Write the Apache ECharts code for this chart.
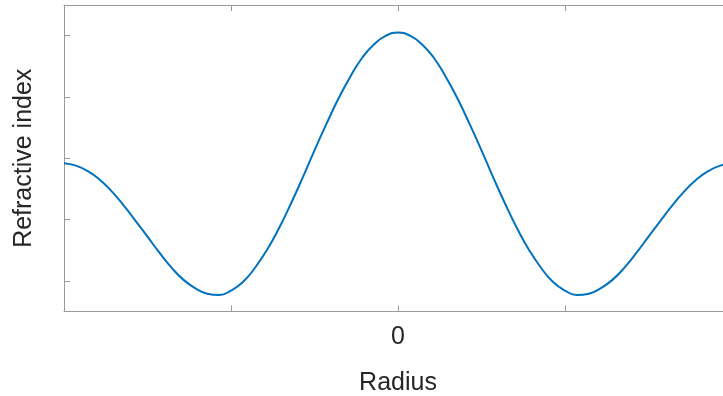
<!DOCTYPE html>
<html style="height: 100%">
<head>
<meta charset="utf-8">
<script src="https://cdn.jsdelivr.net/npm/echarts@6/dist/echarts.min.js"></script>
</head>
<body style="height: 100%; margin: 0; background: #fff">
<div id="container" style="width: 723px; height: 396px"></div>
<script type="text/javascript">
// radius samples (half profile, mirrored below) and the index
var radius = [0, 0.25, 0.5, 0.75, 1, 1.25, 1.5, 1.75, 2, 2.25, 2.5, 2.75, 3, 3.25, 3.5,
	3.75, 4, 4.25, 4.5, 4.75, 5, 5.25, 5.5, 5.75, 6, 6.25, 6.5, 6.75, 7];
var index = [4.55, 4.50, 4.36, 4.14, 3.83, 3.47, 3.06, 2.63, 2.18, 1.75, 1.35, 1.00, 0.71, 0.48, 0.34,
	0.27, 0.29, 0.38, 0.52, 0.72, 0.96, 1.22, 1.48, 1.73, 1.96, 2.15, 2.29, 2.38, 2.42];
var yTicks = [0.5, 1.5, 2.5, 3.5, 4.5];

var data = [];
for (var i = radius.length - 1; i > 0; i--) data.push([-radius[i], index[i]]);
for (var i = 0; i < radius.length; i++) data.push([radius[i], index[i]]);

var boxColor = '#9a9a9a';
var textColor = '#262626';
var font = '"Liberation Sans", Arial, sans-serif';

var myChart = echarts.init(document.getElementById('container'));
var option = {
	animation: false,
	grid: { left: 64, top: 5, width: 668, height: 306.5, outerBoundsMode: 'none' },
	xAxis: [{
		type: 'value',
		min: -7, max: 7, interval: 3.5,
		name: 'Radius',
		nameLocation: 'middle',
		nameGap: 59,
		nameTextStyle: { fontSize: 25, color: textColor, fontFamily: font },
		axisLine: { onZero: false, lineStyle: { color: boxColor, width: 1 } },
		axisTick: { inside: true, length: 6, lineStyle: { color: boxColor } },
		axisLabel: {
			margin: 13, fontSize: 25, color: textColor, fontFamily: font,
			formatter: function (v) { return v === 0 ? '0' : ''; }
		},
		splitLine: { show: false }
	}, {
		type: 'value',
		position: 'top',
		min: -7, max: 7, interval: 3.5,
		axisLine: { onZero: false, lineStyle: { color: boxColor, width: 1 } },
		axisTick: { inside: true, length: 6, lineStyle: { color: boxColor } },
		axisLabel: { show: false },
		splitLine: { show: false }
	}],
	yAxis: {
		type: 'value',
		min: 0, max: 5,
		name: 'Refractive index',
		nameLocation: 'middle',
		nameGap: 27,
		nameTextStyle: { fontSize: 25, color: textColor, fontFamily: font },
		axisLine: { show: true, onZero: false, lineStyle: { color: boxColor, width: 1 } },
		axisTick: { show: true, inside: true, length: 6, customValues: yTicks, lineStyle: { color: boxColor } },
		axisLabel: { show: false },
		splitLine: { show: false }
	},
	series: [{
		type: 'line',
		data: data,
		smooth: 0.5,
		showSymbol: false,
		lineStyle: { color: '#0072BD', width: 2 }
	}]
};
myChart.setOption(option);
</script>
</body>
</html>
